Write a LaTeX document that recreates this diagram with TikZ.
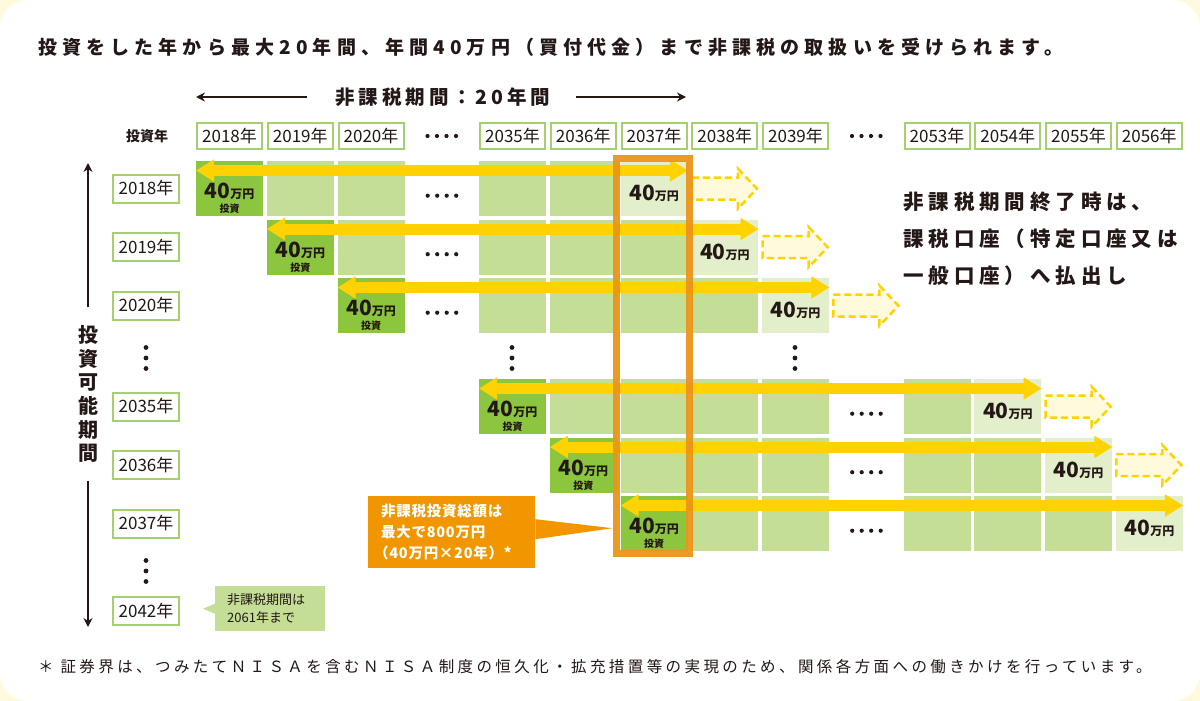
\documentclass[tikz,border=0pt]{standalone}
\usepackage{fontspec}
\setmainfont{Noto Sans CJK JP}
\usetikzlibrary{arrows.meta,positioning,calc}

\definecolor{gdark}{HTML}{8CC63F}
\definecolor{glight}{HTML}{C4DE96}
\definecolor{gpale}{HTML}{E3EFCB}
\definecolor{gbox}{HTML}{A5D06E}
\definecolor{yarrow}{HTML}{FFD200}
\definecolor{ylite}{HTML}{FFFADC}
\definecolor{orng}{HTML}{EA951B}
\definecolor{orng2}{HTML}{F29600}
\definecolor{cream}{HTML}{FFF9DD}
\definecolor{ink}{HTML}{231815}

\tikzset{
  cell/.style={minimum width=67pt, minimum height=55pt, inner sep=0pt, anchor=north west},
  darkcell/.style={cell, fill=gdark},
  lightcell/.style={cell, fill=glight},
  palecell/.style={cell, fill=gpale},
  dotcell/.style={cell},
  yearbox/.style={draw=gbox, line width=2pt, fill=white, minimum width=65pt, minimum height=26pt, inner sep=0pt, text=ink, font=\fontsize{17}{17}\selectfont},
  yarr/.style={draw=yarrow, line width=11pt, {Triangle[length=18pt,width=21pt]}-{Triangle[length=18pt,width=21pt]}},
  dasharr/.style={draw=yarrow, fill=ylite, line width=2.5pt, dash pattern=on 7pt off 4pt},
  blkarr/.style={draw=ink, line width=2.7pt, -{Stealth[length=9pt,width=9pt]}},
}

\newcommand\outarrow[1]{\draw[dasharr] ([xshift=4pt]#1.east) ++(0,-11) -- ++(46,0) -- ++(0,-9) -- ++(19,20) -- ++(-19,20) -- ++(0,-9) -- ++(-46,0) -- cycle;}

\begin{document}
\begin{tikzpicture}[x=1pt,y=-1pt]
		%%%%% START %%%%%
		\useasboundingbox (0,0) rectangle (1200,701);
		\fill[cream] (0,0) rectangle (1200,701);
		\fill[white, rounded corners=28pt] (0,0) rectangle (1200,701);
		
		\node[anchor=west, inner sep=0pt, text=ink, font=\bfseries\fontsize{19}{19}\selectfont\addfontfeature{LetterSpace=27}] (title) at (38,47) {投資をした年から最大20年間、年間40万円（買付代金）まで非課税の取扱いを受けられます。};
		
		\node[inner sep=0pt, text=ink, font=\bfseries\fontsize{19.5}{19.5}\selectfont\addfontfeature{LetterSpace=20}] (kikan) at (443,97) {非課税期間：20年間};
		\coordinate (kl) at (196,97);
		\coordinate (kr) at (686,97);
		\draw[blkarr, shorten <=28pt] (kikan.west) -- (kl);
		\draw[blkarr, shorten <=25pt] (kikan.east) -- (kr);
		
		\node[text=ink, font=\bfseries\fontsize{14}{14}\selectfont] (toushinen) at (147,136) {投資年};
		\foreach \c/\yr in {0/2018,1/2019,2/2020,4/2035,5/2036,6/2037,7/2038,8/2039,10/2053,11/2054,12/2055,13/2056}
			\node[yearbox, anchor=north west] (h\c) at ({196+70.75*\c},122) {\yr 年};
		\foreach \x in {441.75,866.25}
			\foreach \k in {-1.5,-0.5,0.5,1.5}
				\fill[ink] ({\x+9.5*\k},136) circle (2.1pt);
		
		% rows
		\foreach \rw/\tp/\yr/\dc/\ec/\kc/\oa in {0/161/2018/0/6/3/1, 1/219.5/2019/1/7/3/1, 2/278/2020/2/8/3/1, 4/379/2035/4/11/9/1, 5/437.5/2036/5/12/9/1, 6/496/2037/6/13/9/0}{
			\node[yearbox, minimum width=66pt, minimum height=28pt] (y\rw) at (146,{\tp+27.5}) {\yr 年};
			\foreach \c in {\dc,...,\ec}{
				\ifnum\c=\kc
					\node[dotcell] (r\rw-c\c) at ({196+70.75*\c},\tp) {};
					\foreach \k in {-1.5,-0.5,0.5,1.5}
						\fill[ink] ([xshift=\k*9.5pt, yshift=-7pt]r\rw-c\c.center) circle (2.1pt);
				\else\ifnum\c=\dc
					\node[darkcell] (r\rw-c\c) at ({196+70.75*\c},\tp) {};
					\node[inner sep=0pt, align=center, text=ink, font=\bfseries\fontsize{10}{14}\selectfont] (t\rw-c\c) at ([yshift=-10pt]r\rw-c\c.center) {{\fontsize{21}{21}\selectfont 40}{\fontsize{12}{12}\selectfont 万円}\\投資};
				\else\ifnum\c=\ec
					\node[palecell] (r\rw-c\c) at ({196+70.75*\c},\tp) {};
					\node[inner sep=0pt, text=ink, font=\bfseries] (t\rw-c\c) at ([yshift=-5pt]r\rw-c\c.center) {{\fontsize{21}{21}\selectfont 40}{\fontsize{12}{12}\selectfont 万円}};
				\else
					\node[lightcell] (r\rw-c\c) at ({196+70.75*\c},\tp) {};
				\fi\fi\fi
			}
			\draw[yarr] ([yshift=-9.5pt]r\rw-c\dc.north west) -- ([yshift=-9.5pt]r\rw-c\ec.north east);
			\ifnum\oa=1 \outarrow{r\rw-c\ec} \fi
		}
		
		\node[yearbox, minimum width=66pt, minimum height=28pt] (y7) at (146,611) {2042年};
		
		% vertical dots
		\foreach \x/\y in {146/358, 512/358, 795/358, 146/571}
			\foreach \k in {-1,0,1}
				\fill[ink] (\x,{\y+10.5*\k}) circle (2.4pt);
		
		% left arrow
		\node[inner sep=0pt, align=center, text=ink, font=\bfseries\fontsize{20}{23.6}\selectfont] (kanou) at (88,394) {投\\資\\可\\能\\期\\間};
		\coordinate (vt) at (88,163);
		\coordinate (vb) at (88,627);
		\draw[blkarr, shorten <=18pt] (kanou.north) -- (vt);
		\draw[blkarr, shorten <=18pt] (kanou.south) -- (vb);
		
		% note
		\node[anchor=north west, fill=glight, text=ink, font=\fontsize{13}{18}\selectfont, align=left, text width=86pt, inner xsep=12pt, minimum height=45pt] (hikikan) at (215,586) {非課税期間は\\2061年まで};
		\path (hikikan.west) ++(-12,0) coordinate (hp);
		\fill[glight] ([yshift=5pt]hikikan.west) -- (hp) -- ([yshift=-5pt]hikikan.west) -- cycle;
		
		\node[anchor=north west, inner sep=0pt, text=ink, align=left, font=\bfseries\fontsize{20.5}{37}\selectfont\addfontfeature{LetterSpace=24}] (shuryo) at (903,192) {非課税期間終了時は、\\課税口座（特定口座又は\\一般口座）へ払出し};
		
		% frame
		\node[draw=orng, line width=7pt, minimum width=73pt, minimum height=395pt, inner sep=0pt, opacity=0.95] (waku) at (652.5,356) {};
		
		\node[anchor=north west, fill=orng2, text=white, font=\bfseries\fontsize{14.5}{21}\selectfont\addfontfeature{LetterSpace=5}, align=left, text width=141pt, inner xsep=13pt, minimum height=72pt] (sogaku) at (368,496) {非課税投資総額は\\最大で800万円\\\hspace*{-7pt}（40万円×20年）*};
		\path (waku.west |- sogaku.east) ++(0,-4) coordinate (sp);
		\fill[orng2] ([yshift=13pt]sogaku.east) -- (sp) -- ([yshift=-7pt]sogaku.east) -- cycle;
		
		\node[anchor=west, inner sep=0pt, text=ink, font=\fontsize{15.5}{15.5}\selectfont\addfontfeature{LetterSpace=22}] (chuu) at (38,667) {＊ 証券界は、つみたてＮＩＳＡを含むＮＩＳＡ制度の恒久化・拡充措置等の実現のため、関係各方面への働きかけを行っています。};
		%%%%% END %%%%%
\end{tikzpicture}
\end{document}
